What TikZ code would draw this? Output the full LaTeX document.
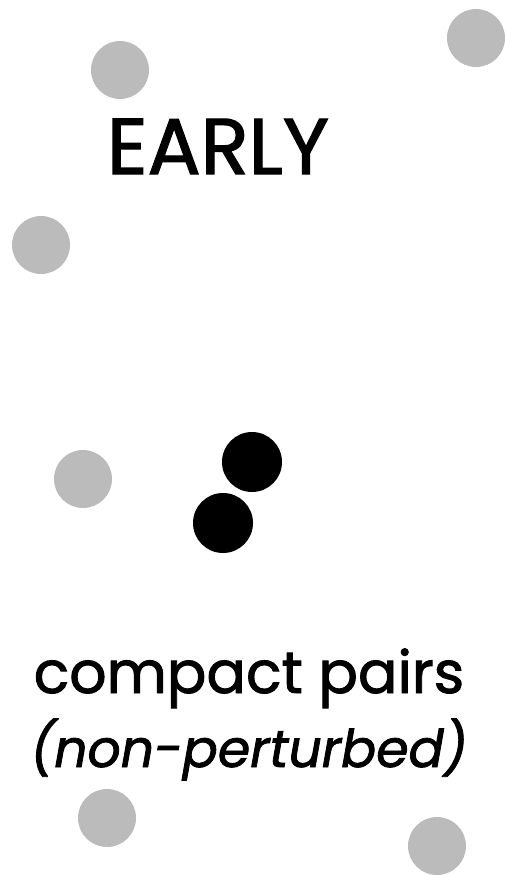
\documentclass[tikz,border=0pt]{standalone}
\usepackage{fontspec}
\setmainfont{Poppins}[FakeBold=1.6, ItalicFeatures={FakeBold=1.6}]
\definecolor{lightdot}{RGB}{187, 187, 187}
\definecolor{darkdot}{RGB}{0, 0, 0}
\usepackage{tikz}

\begin{document}
\begin{tikzpicture}[
    x = 1pt, y = -1pt,
    dot/.style = {
      circle,
      inner sep     = 0pt,
      minimum size  = 58pt
    },
    greydot/.style  = {dot, fill = lightdot},
    blackdot/.style = {dot, fill = darkdot, minimum size = 60pt}
  ]
  \useasboundingbox (0,0) rectangle (504,875);

  % background particles
  \node[greydot] (g1) at (120, 70)  {};
  \node[greydot] (g2) at (476, 38)  {};
  \node[greydot] (g3) at (41, 245)  {};
  \node[greydot] (g4) at (83, 479)  {};
  \node[greydot] (g5) at (107, 818) {};
  \node[greydot] (g6) at (437, 846) {};

  % the pair
  \node[blackdot] (p1) at (252, 462) {};
  \node[blackdot] (p2) at (223, 523) {};

  \node[
    inner sep = 0pt,
    anchor    = base
  ] (early) at (218, 174) {
    {\fontsize{79}{82}\selectfont EARLY}
  };

  \node[
    inner sep = 0pt,
    anchor    = base
  ] (compact) at (249, 693) {
    {\fontsize{58.5}{62}\selectfont compact pairs}
  };

  \node[
    inner sep = 0pt,
    anchor    = base
  ] (nonpert) at (249, 767) {
    {\fontsize{52}{56}\selectfont\itshape (non-perturbed)}
  };
\end{tikzpicture}
\end{document}
